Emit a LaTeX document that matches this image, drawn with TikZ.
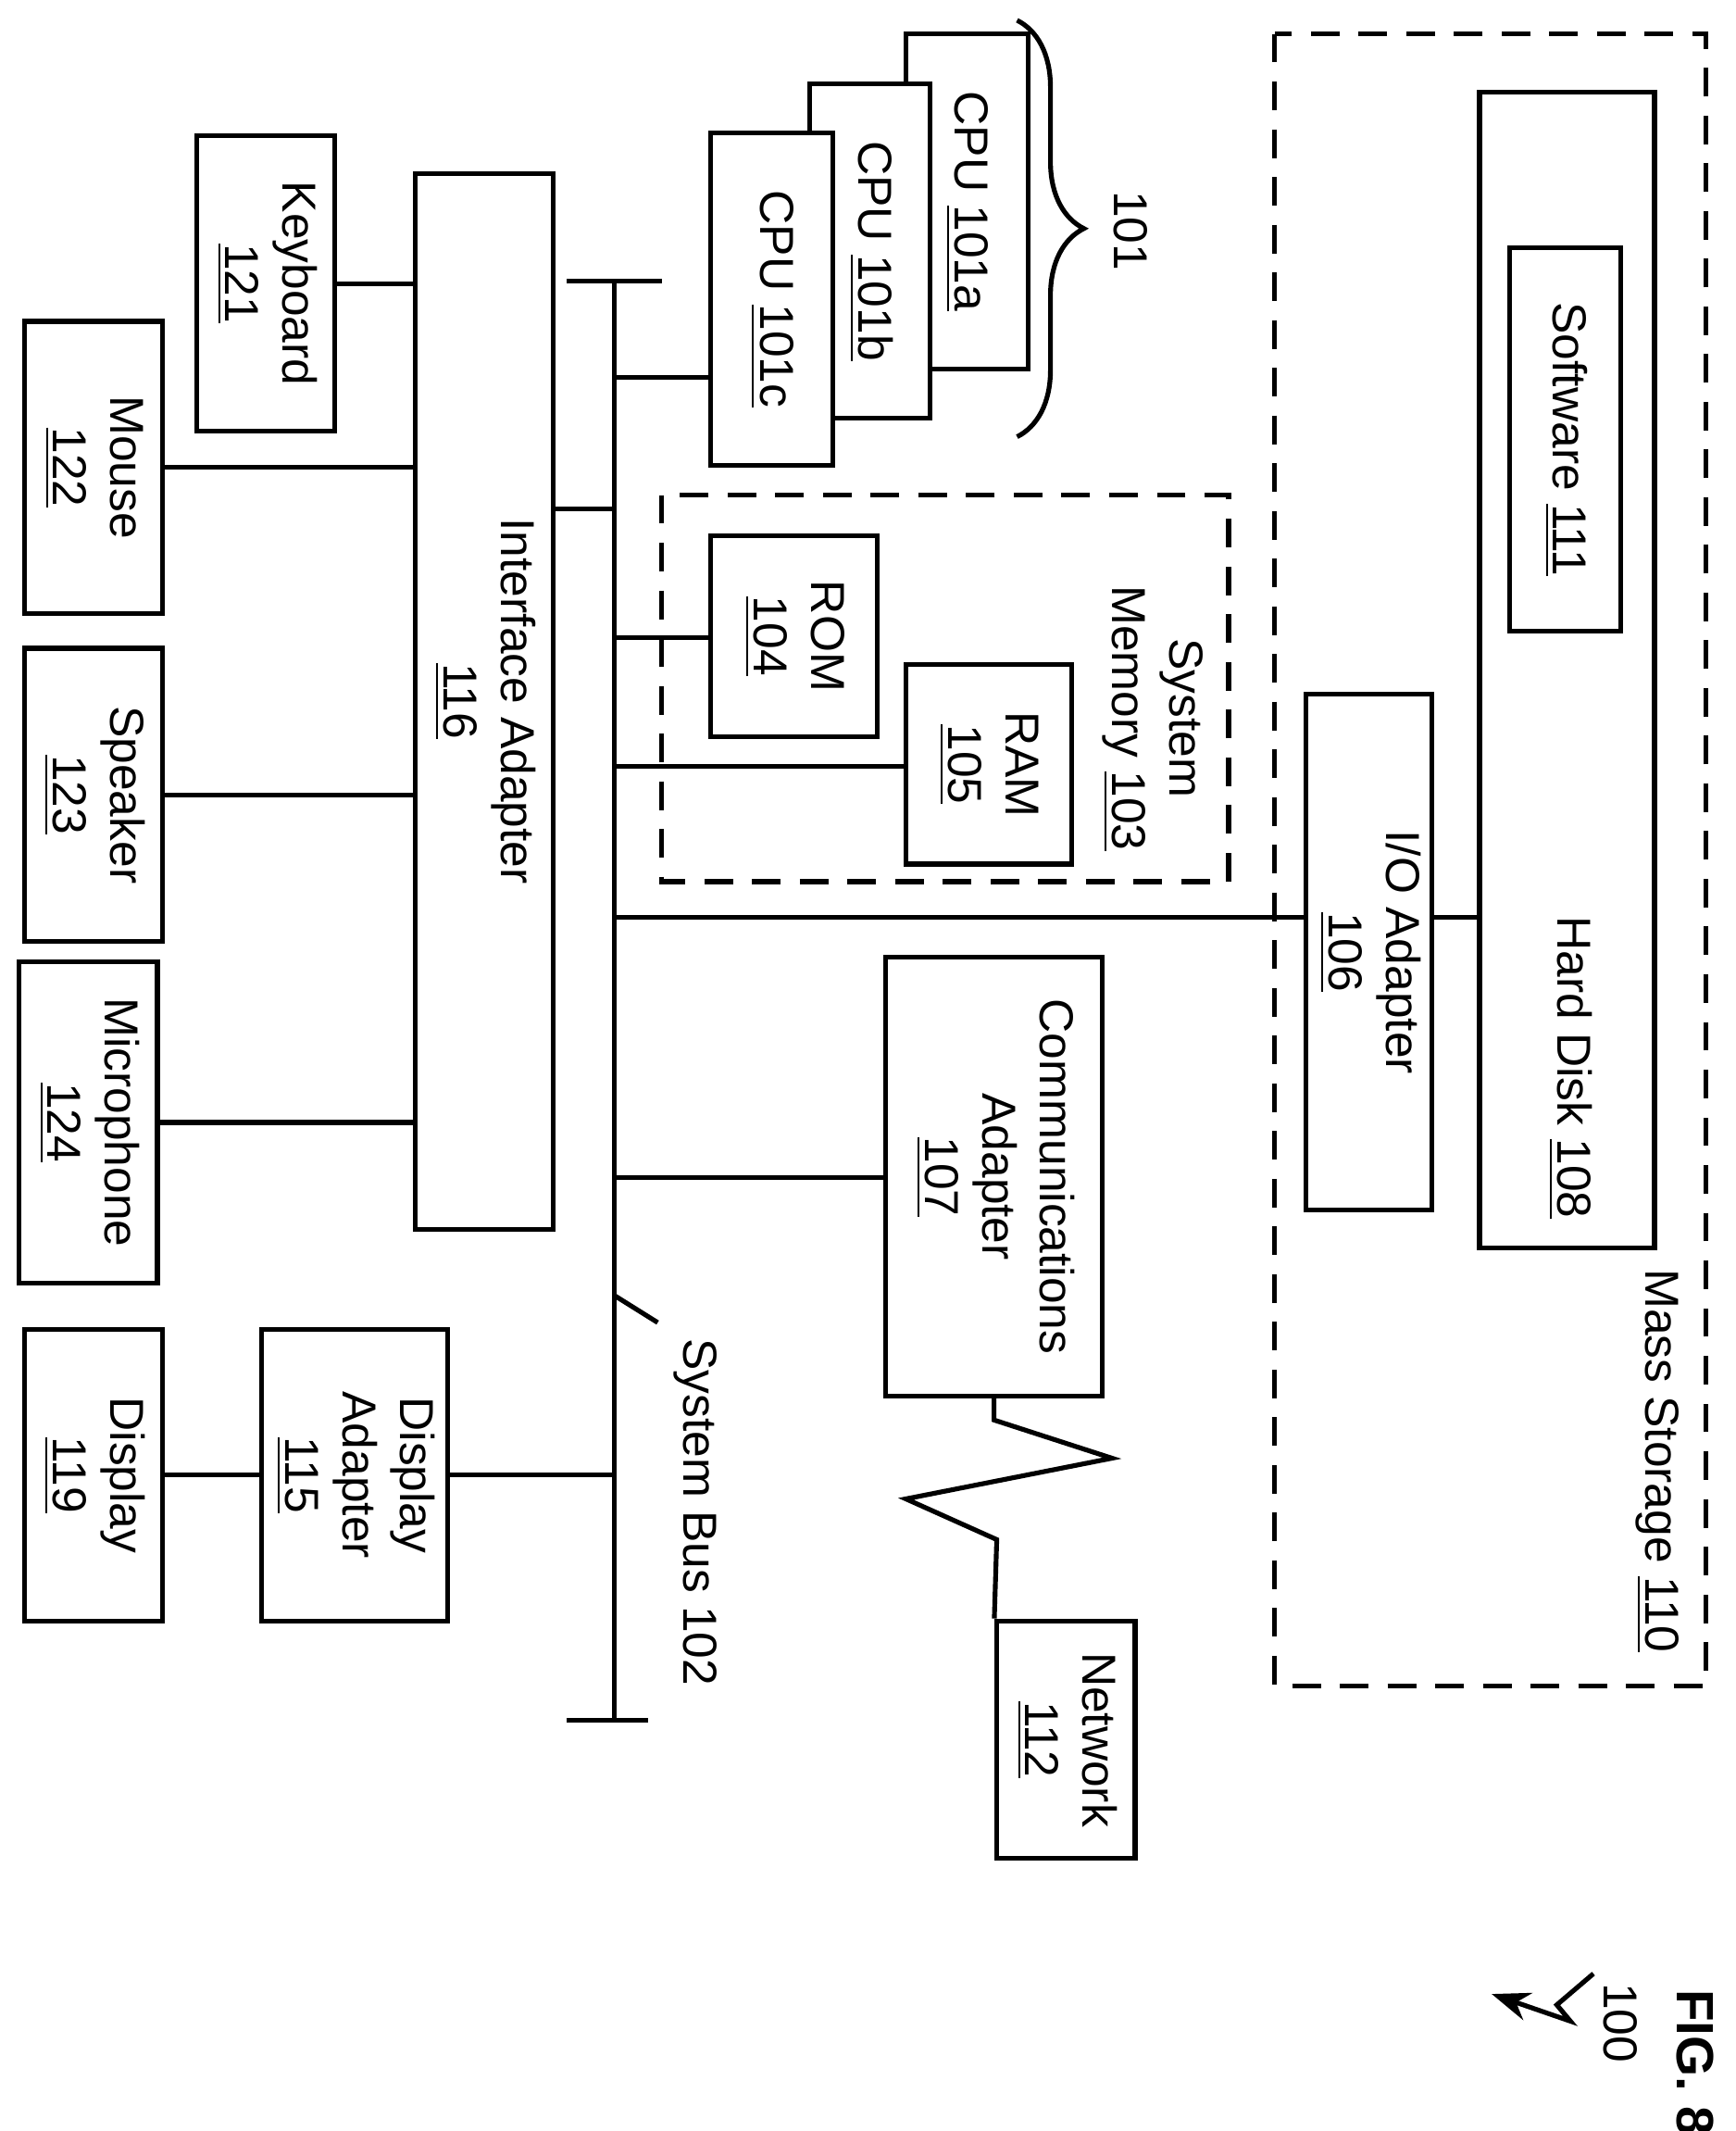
\documentclass[tikz,border=0pt]{standalone}
\usepackage{fontspec}
\setmainfont{Liberation Sans}
\usetikzlibrary{calc,decorations.pathreplacing,arrows.meta}
\newcommand{\vlab}[1]{\rotatebox{-90}{\begin{tabular}{@{}c@{}}#1\end{tabular}}}
\begin{document}
\begin{tikzpicture}[x=0.01cm, y=-0.01cm, line width=1pt,
  box/.style={draw, fill=white, inner sep=0pt, align=center, font=\fontsize{10}{12}\selectfont},
  dbox/.style={draw, dashed, dash pattern=on 6pt off 4pt},
  txt/.style={inner sep=0pt, font=\fontsize{10}{12}\selectfont}]
\useasboundingbox (0,0) rectangle (1280,1571);
% peripherals
\node[box, minimum width=1.02cm, minimum height=2.18cm] (kbd) at (196,209) {\vlab{Keyboard\\\underline{121}}};
\node[box, minimum width=1.02cm, minimum height=2.15cm] (mouse) at (69,344.5) {\vlab{Mouse\\\underline{122}}};
\node[box, minimum width=1.02cm, minimum height=2.16cm] (spk) at (69,586) {\vlab{Speaker\\\underline{123}}};
\node[box, minimum width=1.02cm, minimum height=2.37cm] (mic) at (65,827.5) {\vlab{Microphone\\\underline{124}}};
\node[box, minimum width=1.02cm, minimum height=2.15cm] (disp) at (69,1087.5) {\vlab{Display\\\underline{119}}};
\node[box, minimum width=1.37cm, minimum height=2.15cm] (dispad) at (261.5,1087.5) {\vlab{Display\\Adapter\\\underline{115}}};
\node[box, minimum width=1.02cm, minimum height=7.78cm] (ia) at (357,517) {\vlab{Interface Adapter\\\underline{116}}};
% processors
\node[box, minimum width=0.90cm, minimum height=2.47cm] (cpua) at (713,148.5) {\vlab{CPU \underline{101a}}};
\node[box, minimum width=0.89cm, minimum height=2.46cm] (cpub) at (641.5,185) {\vlab{CPU \underline{101b}}};
\node[box, minimum width=0.90cm, minimum height=2.45cm] (cpuc) at (569,220.5) {\vlab{CPU \underline{101c}}};
\draw[decorate, decoration={brace, amplitude=14pt}] (750,15) -- (750,322) coordinate[midway] (brmid);
\node[txt] (l101) at (830,170) {\vlab{101}};
% memory
\draw[dbox] (488,365) rectangle (906,650);
\node[txt, anchor=north] (smlab) at (850,430) {\vlab{System\\Memory \underline{103}}};
\node[box, minimum width=1.23cm, minimum height=1.48cm] (rom) at (585.5,469) {\vlab{ROM\\\underline{104}}};
\node[box, minimum width=1.22cm, minimum height=1.47cm] (ram) at (729,563.5) {\vlab{RAM\\\underline{105}}};
% mass storage
\draw[dbox] (940,25) rectangle (1258,1243);
\node[txt, anchor=south] (mslab) at (1222,1220) {\vlab{Mass Storage \underline{110}}};
\node[box, minimum width=1.29cm, minimum height=8.52cm] (hd) at (1155.5,494) {};
\node[txt, anchor=south] (hdlab) at (1157,900) {\vlab{Hard Disk \underline{108}}};
\node[box, minimum width=0.82cm, minimum height=2.82cm] (sw) at (1154,324) {\vlab{Software \underline{111}}};
\node[box, minimum width=0.93cm, minimum height=3.80cm] (io) at (1009.5,702) {\vlab{I/O Adapter\\\underline{106}}};
% communications
\node[box, minimum width=1.60cm, minimum height=3.23cm] (comm) at (733,867.5) {\vlab{Communications\\Adapter\\\underline{107}}};
\node[box, minimum width=1.02cm, minimum height=1.75cm] (net) at (786,1282.5) {\vlab{Network\\\underline{112}}};
% system bus
\coordinate (bt) at (453,207);
\coordinate (bb) at (453,1268);
\draw (bt) -- (bb);
\draw (418,207) -- (488,207);
\draw (418,1268) -- (478,1268);
\node[txt, anchor=north west] (buslab) at (490,985) {\vlab{System Bus 102}};
\draw (453,955) -- (485,975);
% connections
\draw (kbd.east) -- (kbd.east -| ia.west);
\draw (mouse.east) -- (mouse.east -| ia.west);
\draw (spk.east) -- (spk.east -| ia.west);
\draw (mic.east) -- (mic.east -| ia.west);
\draw (disp.east) -- (dispad.west);
\draw (dispad.east) -- (dispad.east -| bt);
\draw (ia.east |- 0,375) -- (453,375);
\draw (453,278) -- (cpuc.west |- 0,278);
\draw (453,470) -- (rom.west |- 0,470);
\draw (453,565) -- (ram.west |- 0,565);
\draw (453,676) -- (io.west |- 0,676);
\draw (io.east |- 0,676) -- (hd.west |- 0,676);
\draw (453,868) -- (comm.west |- 0,868);
\draw (comm.south) -- ++(0,16) -- (820,1075) -- (668,1105) -- (735,1135) -- (net.north west);
% figure label
\node[txt, font=\fontsize{11}{13}\selectfont\bfseries, anchor=north] (fig) at (1250,1465) {\rotatebox{-90}{FIG. 8}};
\node[txt, anchor=north] (ref) at (1195,1460) {\rotatebox{-90}{100}};
\draw[-{Stealth[length=8pt]}] (1175,1455) -- (1148,1478) -- (1158,1490) -- (1100,1470);
\end{tikzpicture}
\end{document}
